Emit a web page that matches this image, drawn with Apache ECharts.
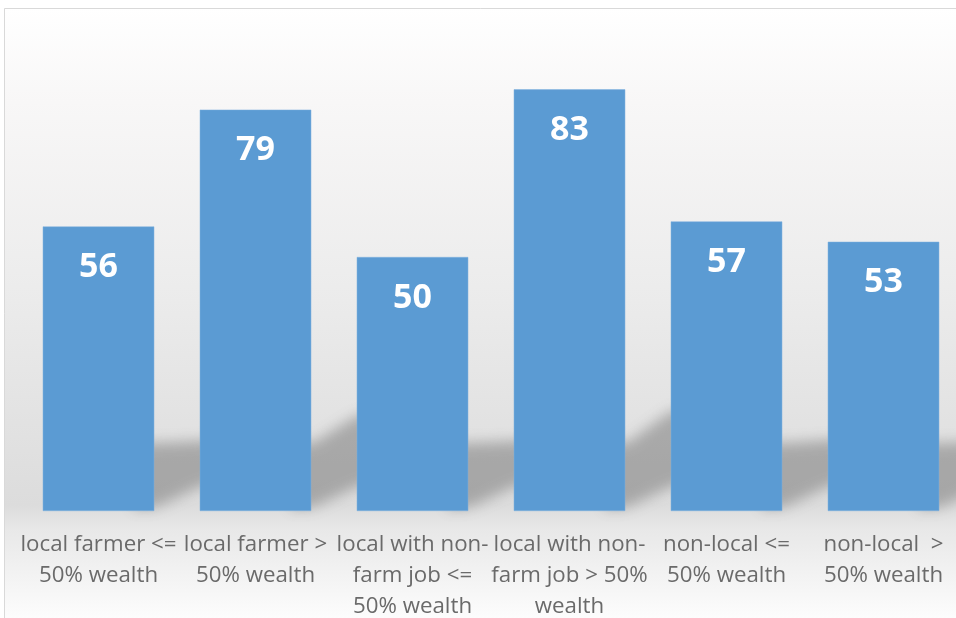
<!DOCTYPE html>
<html>
<head>
<meta charset="utf-8">
<script src="https://cdn.jsdelivr.net/npm/echarts@6/dist/echarts.min.js"></script>
<style>html,body{margin:0;padding:0;background:#fff}#c{width:956px;height:618px}</style>
</head>
<body>
<div id="c"></div>
<script>
const categories = [
  "local farmer <=\n50% wealth",
  "local farmer >\n50% wealth",
  "local with non-\nfarm job <=\n50% wealth",
  "local with non-\nfarm job > 50%\nwealth",
  "non-local <=\n50% wealth",
  "non-local  >\n50% wealth"
];
const values = [56, 79, 50, 83, 57, 53];

const chart = echarts.init(document.getElementById('c'), null, {renderer: 'canvas'});

const OFF = 3000;
function floorShadow(params, api) {
  const idx = api.value(0), v = api.value(1);
  const base = api.coord([idx, 0]);
  const band = api.size([1, 0])[0];
  const xr = base[0] + band * 0.355 - OFF;
  const by = base[1];
  const gap = band * 0.29;
  const rise = Math.max(0, (v - 56) * 1.1);
  return {
    type: 'polygon',
    shape: {points: [
      [xr - 20, by - 2],
      [xr + 2, by - 4],
      [xr + gap, by - 24],
      [xr + gap + 20, by - 30],
      [xr + gap + 20, by - 72 - rise],
      [xr + gap, by - 70 - rise],
      [xr + 2, by - 68],
      [xr - 20, by - 68]
    ]},
    style: {fill: 'rgba(0,0,0,1)', shadowBlur: 14, shadowOffsetX: OFF,
      shadowColor: 'rgba(100,100,100,0.45)'},
    silent: true
  };
}

chart.setOption({
  animation: false,
  backgroundColor: '#ffffff',
  graphic: [{
    type: 'rect', z: -10, silent: true,
    shape: {x: 4.5, y: 8.5, width: 960, height: 620},
    style: {
      stroke: '#d9d9d9', lineWidth: 1,
      fill: new echarts.graphic.LinearGradient(0, 0, 0, 1, [
        {offset: 0, color: '#ffffff'},
        {offset: 0.15, color: '#f8f7f7'},
        {offset: 0.45, color: '#ececec'},
        {offset: 0.8, color: '#dcdcdc'},
        {offset: 0.84, color: '#e8e8e8'},
        {offset: 1, color: '#ffffff'}
      ])
    }
  }],
  grid: {left: 20, top: 3, width: 942, bottom: 107, containLabel: false, outerBoundsMode: 'none'},
  xAxis: {
    type: 'category', data: categories,
    axisLine: {show: false}, axisTick: {show: false},
    axisLabel: {interval: 0, color: '#6a6a6a', fontSize: 22.3, lineHeight: 31,
      fontFamily: '"Open Sans", Lato, sans-serif', margin: 18}
  },
  yAxis: {type: 'value', min: 0, max: 100, show: false, splitLine: {show: false}},
  series: [{
    type: 'custom', z: 1, renderItem: floorShadow, clip: false,
    data: values.map((v, i) => [i, v]), silent: true
  }, {
    type: 'bar', data: values, barCategoryGap: '29%', z: 2,
    itemStyle: {color: '#5b9bd3', borderColor: '#7fb1de', borderWidth: 0.5},
    label: {show: true, position: 'insideTop', distance: 24, color: '#ffffff',
      fontSize: 34, fontWeight: 'bold', fontFamily: '"Open Sans", Lato, sans-serif'}
  }]
});
</script>
</body>
</html>
